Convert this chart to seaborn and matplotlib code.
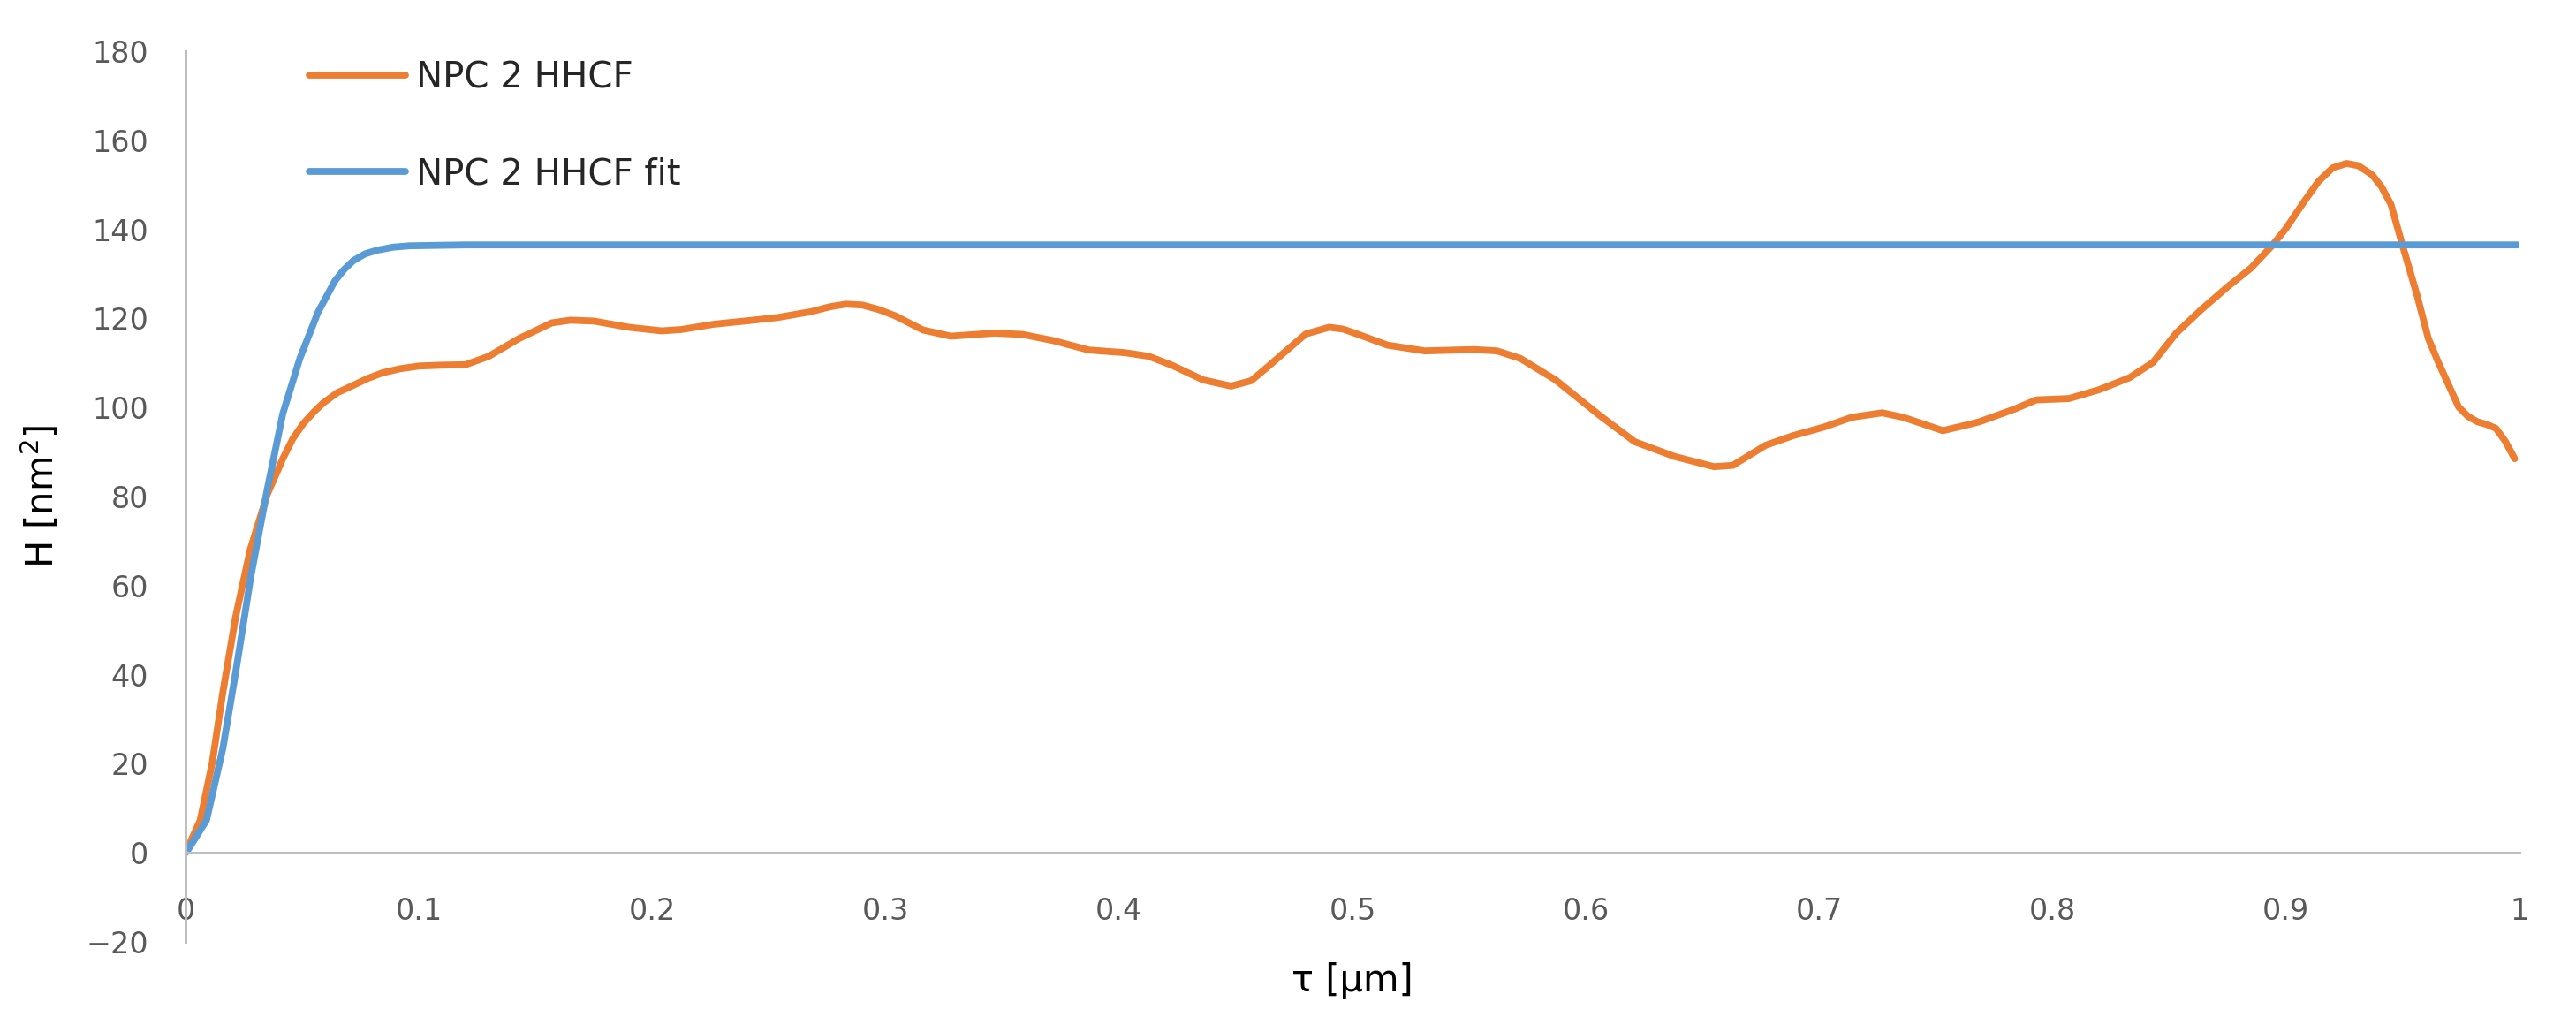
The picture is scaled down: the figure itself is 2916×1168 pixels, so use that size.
import numpy as np
import pandas as pd
import matplotlib
matplotlib.use('Agg')
import matplotlib.pyplot as plt
import seaborn as sns

# values
tau_hhcf = [0.0, 0.0063, 0.0114, 0.016, 0.0215, 0.0277, 0.035, 0.0417, 0.046, 0.0505,
            0.055, 0.059, 0.065, 0.072, 0.078, 0.0845, 0.092, 0.1, 0.11, 0.12,
            0.13, 0.143, 0.157, 0.165, 0.175, 0.19, 0.204, 0.2125, 0.2265, 0.2415,
            0.2537, 0.268, 0.276, 0.283, 0.29, 0.297, 0.304, 0.316, 0.328, 0.3467,
            0.3586, 0.372, 0.387, 0.4025, 0.4127, 0.4226, 0.436, 0.448, 0.4566, 0.463,
            0.47, 0.48, 0.49, 0.496, 0.502, 0.515, 0.531, 0.552, 0.562, 0.572,
            0.587, 0.606, 0.621, 0.638, 0.655, 0.663, 0.677, 0.689, 0.702, 0.714,
            0.727, 0.736, 0.753, 0.765, 0.7687, 0.784, 0.793, 0.807, 0.82, 0.833,
            0.843, 0.853, 0.864, 0.875, 0.885, 0.894, 0.9, 0.908, 0.914, 0.92,
            0.926, 0.931, 0.937, 0.941, 0.945, 0.95, 0.956, 0.961, 0.965, 0.968,
            0.974, 0.978, 0.982, 0.986, 0.99, 0.994, 0.998]
h_hhcf = [0.0, 7.3, 20.0, 36.0, 53.0, 68.0, 80.4, 88.5, 93.0, 96.4,
          99.0, 101.0, 103.3, 105.0, 106.5, 107.8, 108.7, 109.3, 109.5, 109.6,
          111.5, 115.5, 119.0, 119.6, 119.4, 118.0, 117.2, 117.5, 118.7, 119.5,
          120.2, 121.5, 122.6, 123.2, 123.0, 122.0, 120.6, 117.4, 116.0, 116.7,
          116.4, 115.0, 112.9, 112.3, 111.5, 109.5, 106.2, 104.8, 106.0, 108.8,
          112.0, 116.5, 118.0, 117.6, 116.5, 114.0, 112.7, 113.0, 112.7, 111.0,
          106.2, 98.2, 92.3, 89.0, 86.7, 87.0, 91.5, 93.7, 95.6, 97.8,
          98.8, 97.8, 94.8, 96.3, 96.8, 99.7, 101.7, 102.0, 104.0, 106.7,
          110.1, 116.7, 122.1, 127.1, 131.3, 136.3, 140.2, 146.4, 150.8, 153.8,
          154.8, 154.3, 152.2, 149.5, 145.6, 136.3, 125.5, 115.5, 110.5, 107.0,
          100.1, 98.0, 96.8, 96.2, 95.3, 92.4, 88.5]

tau_fit = [0.0, 0.001, 0.009, 0.016, 0.0215, 0.028, 0.035, 0.0417, 0.049, 0.0568,
           0.064, 0.068, 0.072, 0.077, 0.082, 0.089, 0.096, 0.12, 0.2, 0.4,
           0.6, 0.8, 1.0]
h_fit = [0.0, 0.6, 7.3, 23.4, 40.5, 62.0, 81.5, 98.6, 111.0, 121.4,
         128.4, 131.0, 133.0, 134.5, 135.3, 136.0, 136.3, 136.5, 136.5, 136.5,
         136.5, 136.5, 136.5]

series_names = ["NPC 2 HHCF", "NPC 2 HHCF fit"]
series_colors = ["#ED7D31", "#5B9BD5"]

x_ticks = [0, 0.1, 0.2, 0.3, 0.4, 0.5, 0.6, 0.7, 0.8, 0.9, 1]
x_ticklabels = ["0", "0.1", "0.2", "0.3", "0.4", "0.5", "0.6", "0.7", "0.8", "0.9", "1"]
y_ticks = [-20, 0, 20, 40, 60, 80, 100, 120, 140, 160, 180]

sns.set_style("white")
plt.rcParams['font.family'] = ['DejaVu Sans']

fig = plt.figure(figsize=(14.58, 5.84), dpi=200)
ax = fig.add_axes([0.072, 0.0873, 0.906, 0.8631])

df_hhcf = pd.DataFrame({'tau': tau_hhcf, 'H': h_hhcf})
df_fit = pd.DataFrame({'tau': tau_fit, 'H': h_fit})

sns.lineplot(data=df_hhcf, x='tau', y='H', ax=ax, color=series_colors[0], lw=2.8,
             sort=False, label=series_names[0], solid_capstyle='round',
             solid_joinstyle='round')
sns.lineplot(data=df_fit, x='tau', y='H', ax=ax, color=series_colors[1], lw=2.8,
             sort=False, label=series_names[1], solid_capstyle='round',
             solid_joinstyle='round')

ax.set_xlim(0, 1)
ax.set_ylim(-20, 180)
ax.set_xticks(x_ticks)
ax.set_xticklabels(x_ticklabels)
ax.set_yticks(y_ticks)

# excel-like axes: horizontal axis sits at y=0
for s in ['top', 'right']:
    ax.spines[s].set_visible(False)
ax.spines['bottom'].set_position(('data', 0))
for s in ['left', 'bottom']:
    ax.spines[s].set_color('#BFBFBF')
    ax.spines[s].set_linewidth(1.1)
ax.tick_params(axis='both', length=0, labelsize=12, labelcolor='#595959')
ax.tick_params(axis='y', pad=15)
ax.tick_params(axis='x', pad=18)

ax.set_xlabel("τ [μm]", fontsize=15, color='#000000')
ax.set_ylabel("H [nm$^2$]", fontsize=15, color='#000000')
ax.xaxis.set_label_coords(0.5, -0.023)
ax.yaxis.set_label_coords(-0.053, 0.5)

ax.legend(loc='upper left', bbox_to_anchor=(0.053, 0.99), frameon=False, fontsize=14.5,
          handlelength=2.7, handletextpad=0.3, labelspacing=1.72, borderpad=0, borderaxespad=0)

plt.savefig("out.png", dpi=200)
